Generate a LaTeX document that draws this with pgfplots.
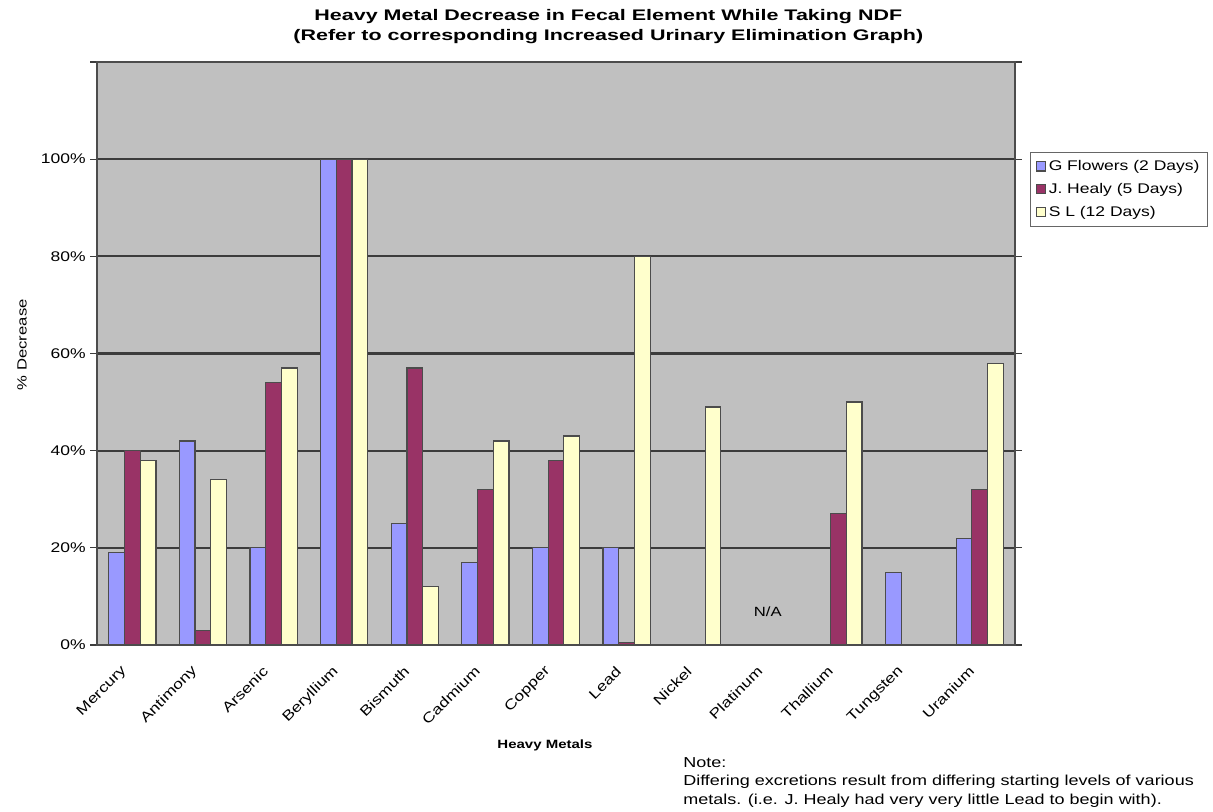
\documentclass[border=0pt]{standalone}
\usepackage{pgfplots}
\pgfplotsset{compat=1.18}
\usepackage{fontspec}
\setmainfont{Liberation Sans}[FakeStretch=1.25]
\newfontfamily\titlefont{Liberation Sans}[FakeStretch=1.4]

\definecolor{gfl}{HTML}{9999FF}
\definecolor{jhe}{HTML}{993366}
\definecolor{sl}{HTML}{FFFFCC}
\definecolor{plotbg}{HTML}{C0C0C0}
\definecolor{gridc}{HTML}{3C3C3C}

\begin{document}
\begin{tikzpicture}[x=0.75pt,y=0.75pt]
\useasboundingbox (0,0) rectangle (1213,812);
\begin{axis}[
    at={(72.75pt,125.25pt)}, anchor=south west,
    scale only axis,
    width=688.5pt, height=437.25pt,
    ybar=0pt, bar width=11.8pt,
    xmin=-0.5, xmax=12.5,
    ymin=0, ymax=120,
    axis background/.style={fill=plotbg},
    axis line style={draw=gray!60!black, line width=0.8pt},
    xtick={0,...,12},
    xticklabels={Mercury,Antimony,Arsenic,Beryllium,Bismuth,Cadmium,Copper,Lead,Nickel,Platinum,Thallium,Tungsten,Uranium},
    xtick style={draw=none},
    xticklabel style={rotate=45, anchor=east, font=\fontsize{10.5}{12}\selectfont, xshift=-10pt, yshift=-5pt},
    ytick={0,20,...,120},
    yticklabels={0\%,20\%,40\%,60\%,80\%,100\%,},
    yticklabel style={font=\fontsize{10.5}{12}\selectfont},
    tick align=outside,
    ytick style={draw=gridc, line width=0.8pt},
    major tick length=5pt,
    ymajorgrids,
    major grid style={draw=gridc, line width=1.6pt},
    title={Heavy Metal Decrease in Fecal Element While Taking NDF\\(Refer to corresponding Increased Urinary Elimination Graph)},
    title style={at={(axis description cs:0.557,1.047)}, anchor=center, align=center,
        font=\titlefont\fontsize{11.5}{15}\selectfont\bfseries},
    xlabel={Heavy Metals},
    xlabel style={at={(axis description cs:0.488,-0.1715)}, anchor=center,
        font=\fontsize{9}{12}\selectfont\bfseries},
    ylabel={\% Decrease},
    ylabel style={at={(axis description cs:-0.0815,0.515)}, anchor=center, rotate=0,
        font=\fontsize{10}{12}\selectfont},
    legend style={at={(axis description cs:1.0163,0.8456)}, anchor=north west,
        draw=gray!80!black, fill=white, font=\fontsize{10.5}{12}\selectfont,
        row sep=4pt, inner sep=4pt, legend cell align=left},
    legend image code/.code={\draw[#1,draw=black!70] (0pt,-3.5pt) rectangle (7pt,3.5pt);},
    every axis plot/.append style={draw=black!70, line width=0.9pt},
]
\addplot[fill=gfl] coordinates {
    (0,19) (1,42) (2,20) (3,100) (4,25) (5,17) (6,20) (7,20)
    (11,15) (12,22)
};
\addlegendentry{G Flowers (2 Days)}
\addplot[fill=jhe] coordinates {
    (0,40) (1,3) (2,54) (3,100) (4,57) (5,32) (6,38) (7,0.5)
    (10,27) (12,32)
};
\addlegendentry{J. Healy (5 Days)}
\addplot[fill=sl] coordinates {
    (0,38) (1,34) (2,57) (3,100) (4,12) (5,42) (6,43) (7,80)
    (8,49) (10,50) (12,58)
};
\addlegendentry{S L (12 Days)}
\node[font=\fontsize{10}{12}\selectfont] at (axis cs:9,6.8) {N/A};
\end{axis}
\node[anchor=north west, align=left, inner sep=0pt,
      font=\fontsize{10.8}{14}\selectfont]
    at (683,55)
    {Note:\\Differing excretions result from differing starting levels of various\\metals.  (i.e. J. Healy had very very little Lead to begin with).};
\end{tikzpicture}
\end{document}
